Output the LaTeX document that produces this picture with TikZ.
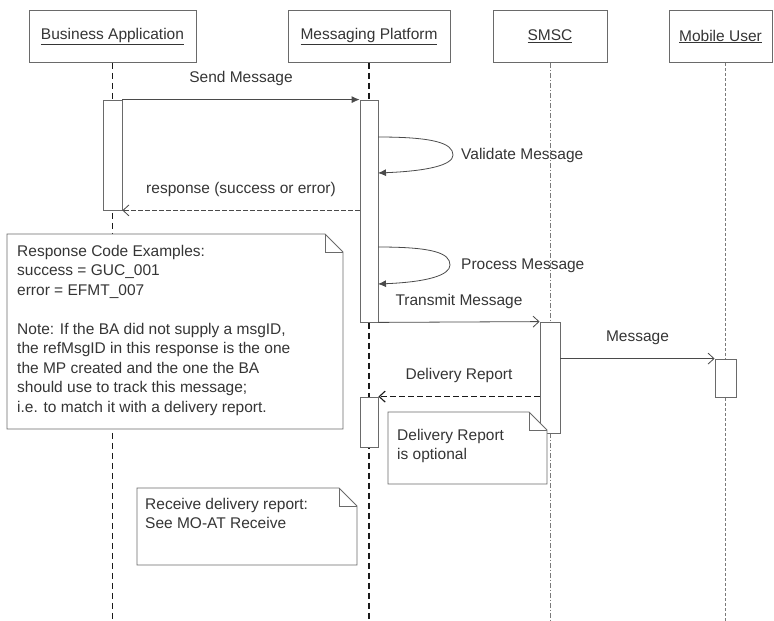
\documentclass[tikz,border=0pt]{standalone}
\usepackage{fontspec}
\setmainfont{Liberation Sans}
\usetikzlibrary{arrows.meta}
\usetikzlibrary{calc}
\definecolor{color_seq_text}{HTML}{353535}
\definecolor{color_seq_border}{HTML}{6A6A6A}
\definecolor{color_seq_lifeline}{HTML}{1A1A1A}
\definecolor{color_seq_lifeline_light}{HTML}{7A7A7A}
\definecolor{color_seq_arrow}{HTML}{4A4A4A}
\def\seqfontsize{\fontsize{15.5}{19.5}\selectfont}
\def\notefold{18}
\def\notebox[#1](#2,#3,#4,#5){
    \filldraw[#1,fill=white,line width=0.8pt] (#2,#3) -- (#4-\notefold,#3) -- (#4,#3+\notefold) -- (#4,#5) -- (#2,#5) -- cycle;
    \draw[#1,line width=0.8pt] (#4-\notefold,#3) -- (#4-\notefold,#3+\notefold) -- (#4,#3+\notefold);
}
\def\selfcall(#1,#2,#3){
    \draw[msg_sync] (#1) .. controls ($(#1)+(55,0)$) and ($(#3)+(0,-12)$) .. (#3) .. controls ($(#3)+(0,10)$) and ($(#2)+(50,-2)$) .. (#2);
}

\begin{document}
\begin{tikzpicture}[x=1pt,y=-1pt,font=\seqfontsize,
    header/.style={draw=color_seq_border,fill=white,line width=0.8pt,minimum height=52pt,inner sep=0pt,text=color_seq_text},
    actbox/.style={draw=color_seq_border,fill=white,line width=0.8pt,inner sep=0pt},
    lifeline_dark/.style={color_seq_lifeline,line width=1.4pt,dash pattern=on 6pt off 4pt},
    lifeline_light/.style={color_seq_lifeline_light,line width=0.8pt,dash pattern=on 3pt off 2pt},
    msg_sync/.style={color_seq_arrow,line width=0.8pt,-{Latex[length=8pt,width=7pt]}},
    msg_async/.style={color_seq_arrow,line width=0.8pt,-{Straight Barb[length=6pt,width=11pt]}},
    msg_reply/.style={msg_async,dash pattern=on 5pt off 2pt},
    msglabel/.style={midway,above=13pt,inner sep=0pt,text=color_seq_text},
    notetext/.style={anchor=north west,align=left,inner sep=0pt,text=color_seq_text}]
        \useasboundingbox (0,0) rectangle (774,621);
        \coordinate (page_bottom) at (0,621);
        % participants
        \node[header,minimum width=167pt] (hdr_ba) at (112.5,36.5) {\underline{Business Application}};
        \node[header,minimum width=162pt] (hdr_mp) at (369,36.5) {\underline{Messaging Platform}};
        \node[header,minimum width=114pt] (hdr_smsc) at (550,36.5) {\underline{SMSC}};
        \node[header,minimum width=103pt] (hdr_mu) at (720.5,36.5) {\underline{Mobile User}};
        % lifelines and activation boxes
        \coordinate (life_mu) at (725.5,63);
        \draw[lifeline_dark] (hdr_ba.south) -- (hdr_ba.south |- page_bottom);
        \draw[lifeline_dark] (hdr_mp.south) -- (hdr_mp.south |- page_bottom);
        \draw[lifeline_light,dash pattern=on 5pt off 2pt on 1pt off 2pt] (hdr_smsc.south) -- (hdr_smsc.south |- page_bottom);
        \draw[lifeline_light] (life_mu) -- (life_mu |- page_bottom);
        \node[actbox,minimum width=19pt,minimum height=110pt] (act_ba) at (112.5,155) {};
        \node[actbox,minimum width=18pt,minimum height=222pt] (act_mp_a) at (369,211) {};
        \node[actbox,minimum width=18pt,minimum height=50pt] (act_mp_b) at (369,422) {};
        \node[actbox,minimum width=20pt,minimum height=111pt] (act_smsc) at (550,377.5) {};
        \node[actbox,minimum width=21pt,minimum height=38pt] (act_mu) at (725.5,378) {};
        % notes
        \notebox[color_seq_border](7,234,343,429)
        \node[notetext] (note_codes) at (17,245) {Response Code Examples:\\success = GUC\_001\\error = EFMT\_007\\[19.5pt]Note: If the BA did not supply a msgID,\\the refMsgID in this response is the one\\the MP created and the one the BA\\should use to track this message;\\i.e. to match it with a delivery report.};
        \notebox[color_seq_border](388,412,547,484)
        \node[notetext] (note_optional) at (397,429) {Delivery Report\\is optional};
        \notebox[color_seq_border](137,488,357,565)
        \node[notetext] (note_receive) at (145,498) {Receive delivery report:\\See MO-AT Receive};
        % messages
        \draw[msg_sync] (act_ba.north east) -- node[msglabel] {Send Message} (act_mp_a.north west);
        \draw[msg_reply] (act_mp_a.west |- act_ba.south) -- node[msglabel] {response (success or error)} (act_ba.south east);
        \draw[msg_async] (act_mp_a.south east) -- node[msglabel] {Transmit Message} (act_smsc.north west);
        \draw[msg_async] (act_smsc.east |- act_mu.north) -- node[msglabel] {Message} (act_mu.north west);
        \draw[msg_reply,color_seq_lifeline,line width=1.1pt,dash pattern=on 6pt off 3pt] (act_smsc.west |- act_mp_b.north) -- node[msglabel] {Delivery Report} (act_mp_b.north east);
        % self calls
        \coordinate (validate_from) at (378,137);
        \coordinate (validate_to) at (378,173);
        \coordinate (validate_tip) at (453,155);
        \coordinate (process_from) at (378,247);
        \coordinate (process_to) at (378,284);
        \coordinate (process_tip) at (450,265);
        \selfcall(validate_from,validate_to,validate_tip)
        \selfcall(process_from,process_to,process_tip)
        \node[anchor=west,inner sep=0pt,text=color_seq_text] (lbl_validate) at (461,155) {Validate Message};
        \node[anchor=west,inner sep=0pt,text=color_seq_text] (lbl_process) at (461,266) {Process Message};
\end{tikzpicture}
\end{document}
